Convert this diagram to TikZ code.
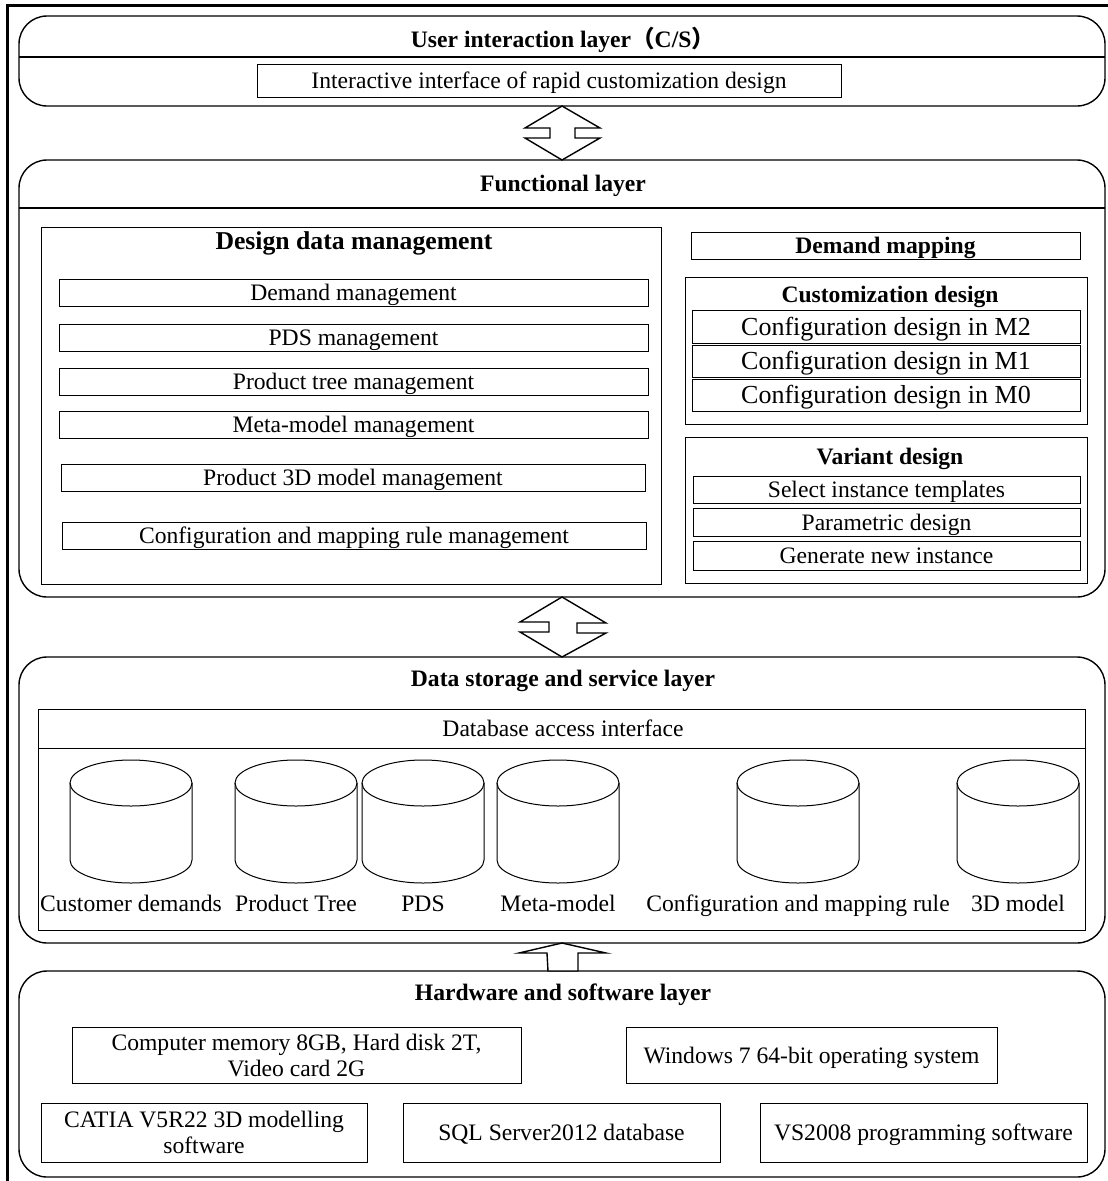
\documentclass[tikz,border=0pt]{standalone}
\usepackage{fontspec}
\usetikzlibrary{calc}
\setmainfont{Liberation Serif}
\newfontfamily\cjk{Noto Sans CJK SC}
\newcommand\RB[7]{\node[#1,minimum width={#4-#2},minimum height={#5-#3}] (#6) at ({(#2+#4)/2},{(#3+#5)/2}) {#7};}
\newcommand\DBcyl[3]{%
  \coordinate (#1) at (#2,783);
  \draw[cyl] ($(#1)+(-61,0)$) -- ($(#1)+(-61,77)$) arc[start angle=180,end angle=0,x radius=61,y radius=23] -- ($(#1)+(61,0)$);
  \draw[cyl] (#1) ellipse[x radius=61,y radius=23];
  \node[txt] (#1-l) at (#2,903) {#3};}
\begin{document}
\begin{tikzpicture}[x=1pt,y=-1pt,
  layer/.style={draw, line width=1.4pt, rounded corners=28pt, inner sep=0pt, outer sep=0pt},
  bxm/.style={draw, line width=0.9pt, inner sep=0pt, outer sep=0pt, font=\fontsize{23.6}{26}\selectfont, align=center},
  bx/.style={bxm, text height=19pt, text depth=3pt},
  bxb/.style={bx, font=\bfseries\fontsize{23.6}{26}\selectfont},
  bxc/.style={bx, font=\fontsize{26}{28}\selectfont, text height=20.5pt, text depth=3.5pt},
  ttl/.style={font=\bfseries\fontsize{23.6}{26}\selectfont, inner sep=0pt, text height=19pt, text depth=3pt},
  txt/.style={font=\fontsize{23.6}{26}\selectfont, inner sep=0pt, text height=19pt, text depth=3pt},
  cyl/.style={line width=1pt},
  blk/.style={draw, line width=1.4pt, fill=white, line join=miter}]
\useasboundingbox (0,0) rectangle (1108,1181);
% outer frame (only top and left visible)
\draw[line width=3pt] (7,1181) -- (7,5) -- (1108,5);

% ---------- Layer 1
\RB{layer}{19}{16}{1105}{106}{L1}{}
\draw[line width=1.4pt] (19,57) -- (1105,57);
\node[ttl] (t1) at (563,39) {User interaction layer{\cjk （}C/S{\cjk ）}};
\RB{bx}{257}{64}{841}{97}{ui}{Interactive interface of rapid customization design}

% ---------- Layer 2
\RB{layer}{19}{160}{1105}{597}{L2}{}
\draw[line width=1.4pt] (19,208) -- (1105,208);
\node[ttl] (t2) at (563,183) {Functional layer};
\RB{bx}{41}{227}{661}{584}{ddm}{}
\node[ttl, font=\bfseries\fontsize{25.7}{28}\selectfont, text height=20.5pt, text depth=3.5pt] (ddmt) at (354,241) {Design data management};
\RB{bx}{59}{279}{648}{306}{d1}{Demand management}
\RB{bx}{59}{324}{648}{351}{d2}{PDS management}
\RB{bx}{59}{368}{648}{395}{d3}{Product tree management}
\RB{bx}{59}{411}{648}{438}{d4}{Meta-model management}
\RB{bx}{61}{464}{645}{491}{d5}{Product 3D model management}
\RB{bx}{62}{522}{646}{549}{d6}{Configuration and mapping rule management}

\RB{bxb}{691}{232}{1080}{259}{dm}{Demand mapping}
\RB{bx}{685}{277}{1087}{424}{cd}{}
\node[ttl] (cdt) at (890,294) {Customization design};
\RB{bxc}{692}{310}{1080}{343}{c2}{Configuration design in M2}
\RB{bxc}{692}{345}{1080}{377}{c1}{Configuration design in M1}
\RB{bxc}{692}{379}{1080}{411}{c0}{Configuration design in M0}
\RB{bx}{685}{437}{1087}{583}{vd}{}
\node[ttl] (vdt) at (890,456) {Variant design};
\RB{bx}{693}{476}{1080}{503}{v1}{Select instance templates}
\RB{bx}{693}{508}{1080}{536}{v2}{Parametric design}
\RB{bx}{693}{541}{1080}{570}{v3}{Generate new instance}

% ---------- Layer 3
\RB{layer}{19}{657}{1105}{943}{L3}{}
\node[ttl] (t3) at (563,678) {Data storage and service layer};
\RB{bx}{38}{709}{1085}{930}{db}{}
\draw[line width=0.9pt] (38,748) -- (1085,748);
\node[txt] (dai) at (563,728) {Database access interface};
\DBcyl{cy1}{131}{Customer demands}
\DBcyl{cy2}{296}{Product Tree}
\DBcyl{cy3}{423}{PDS}
\DBcyl{cy4}{558}{Meta-model}
\DBcyl{cy5}{798}{Configuration and mapping rule}
\DBcyl{cy6}{1018}{3D model}

% ---------- Layer 4
\RB{layer}{19}{971}{1105}{1177}{L4}{}
\node[ttl] (t4) at (563,992) {Hardware and software layer};
\RB{bxm}{72}{1027}{521}{1083}{h1}{Computer memory 8GB, Hard disk 2T,\\Video card 2G}
\RB{bx}{626}{1027}{997}{1083}{h2}{Windows 7 64-bit operating system}
\RB{bxm}{41}{1103}{367}{1162}{h3}{CATIA V5R22 3D modelling\\software}
\RB{bx}{403}{1103}{720}{1162}{h4}{SQL Server2012 database}
\RB{bx}{760}{1103}{1087}{1162}{h5}{VS2008 programming software}

% ---------- block arrows
\draw[blk] (L1.south) -- ++(-37,22) -- ++(25,0) -- ++(0,10) -- ++(-25,0) -- (L2.north)
  -- ++(38,-22) -- ++(-25,0) -- ++(0,-10) -- ++(25,0) -- cycle;
\draw[blk] (L2.south) -- ++(-42,25) -- ++(29,0) -- ++(0,10) -- ++(-29,0) -- (L3.north)
  -- ++(44,-24) -- ++(-29,0) -- ++(0,-10) -- ++(29,0) -- cycle;
\draw[blk] (L3.south) -- ++(-43,10) -- ++(28,0) -- (548,971) -- (578,971) -- (578,953) -- ++(28,0) -- cycle;
\end{tikzpicture}
\end{document}
